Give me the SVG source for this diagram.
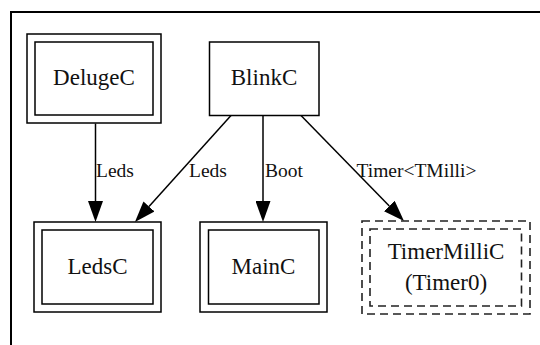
<svg xmlns="http://www.w3.org/2000/svg" width="540" height="345" viewBox="0 0 540 345">
<defs>
<marker id="ah" markerUnits="userSpaceOnUse" viewBox="0 0 21 15" markerWidth="21" markerHeight="15" refX="0" refY="7.5" orient="auto">
<path d="M0,0 L21,7.5 L0,15 Z" fill="#000"/>
</marker>
<style>
.box{fill:none;stroke:#000;stroke-width:1.5}
.dash{fill:none;stroke:#222;stroke-width:1.6;stroke-dasharray:8,5}
.nl{font-family:"Liberation Serif","Times New Roman",serif;font-size:23px;fill:#111;text-anchor:middle}
.el{font-family:"Liberation Serif","Times New Roman",serif;font-size:19.5px;fill:#111}
.edge{fill:none;stroke:#000;stroke-width:1.5;marker-end:url(#ah)}
</style>
</defs>
<rect width="540" height="345" fill="#fff"/>
<path d="M11,345 L11,12 L540,12" fill="none" stroke="#000" stroke-width="2"/>
<g id="edges">
<line class="edge" x1="95.5" y1="123.5" x2="95.5" y2="201"/>
<text class="el" x="96" y="177">Leds</text>
<line class="edge" x1="231" y1="115.5" x2="149" y2="206.4"/>
<text class="el" x="189" y="177">Leds</text>
<line class="edge" x1="263" y1="115.5" x2="263" y2="201"/>
<text class="el" x="265" y="177">Boot</text>
<line class="edge" x1="301" y1="115.5" x2="389.3" y2="206"/>
<text class="el" x="356.5" y="177">Timer&lt;TMilli&gt;</text>
</g>
<g id="DelugeC">
<rect class="box" x="27" y="34" width="134" height="89"/>
<rect class="box" x="35" y="42" width="118" height="73"/>
<text class="nl" x="94" y="85">DelugeC</text>
</g>
<g id="BlinkC">
<rect class="box" x="209.5" y="42" width="109.5" height="73.5"/>
<text class="nl" x="264" y="85">BlinkC</text>
</g>
<g id="LedsC">
<rect class="box" x="34" y="222" width="127" height="90"/>
<rect class="box" x="42" y="230" width="111" height="74"/>
<text class="nl" x="97.5" y="274">LedsC</text>
</g>
<g id="MainC">
<rect class="box" x="200" y="222" width="127" height="90"/>
<rect class="box" x="208.5" y="230" width="110.5" height="74"/>
<text class="nl" x="263.5" y="274">MainC</text>
</g>
<g id="TimerMilliC">
<rect class="dash" x="362" y="221" width="168" height="93"/>
<rect class="dash" x="370" y="229" width="151.5" height="77"/>
<text class="nl" x="446" y="259">TimerMilliC</text>
<text class="nl" x="446" y="289.5">(Timer0)</text>
</g>
</svg>
